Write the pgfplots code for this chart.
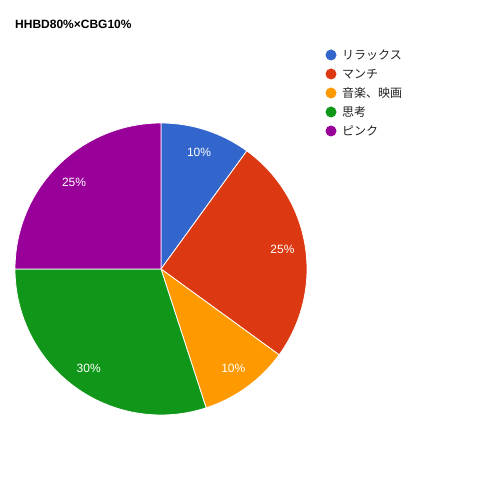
\documentclass[border=0pt]{standalone}
\usepackage{pgfplots}
\usepackage{pgfplotstable}
\pgfplotsset{compat=1.18}
\usepackage{fontspec}
\setmainfont{Liberation Sans}
\newfontfamily\cjk{Noto Sans CJK JP}
\definecolor{s0}{HTML}{3366CC}
\definecolor{s1}{HTML}{DC3912}
\definecolor{s2}{HTML}{FF9900}
\definecolor{s3}{HTML}{109618}
\definecolor{s4}{HTML}{990099}
\definecolor{legtext}{HTML}{222222}
\newcommand\lbl{\fontsize{12bp}{14bp}\selectfont}

% slice name, share in percent, colour
\pgfplotstableread{
name value col
リラックス 10 s0
マンチ 25 s1
音楽、映画 10 s2
思考 30 s3
ピンク 25 s4
}\piedata

\begin{document}
\begin{tikzpicture}
\begin{axis}[
  scale only axis,
  width=487bp, height=487bp,
  xmin=0, xmax=487, ymin=0, ymax=487,
  hide axis, clip=false,
]
\pgfplotsextra{
  \path (axis cs:0,0) rectangle (axis cs:487,487);
  \node[anchor=base west, inner sep=0pt, font=\lbl\bfseries] at (axis cs:15,458) {HHBD80\%×CBG10\%};
  \def\cum{0}
  \pgfplotsforeachungrouped \i in {0,...,4}{
    \pgfplotstablegetelem{\i}{value}\of\piedata \let\sv\pgfplotsretval
    \pgfplotstablegetelem{\i}{col}\of\piedata \let\sc\pgfplotsretval
    \pgfplotstablegetelem{\i}{name}\of\piedata \let\sn\pgfplotsretval
    \pgfmathsetmacro\sa{90-3.6*\cum}
    \pgfmathsetmacro\sb{90-3.6*(\cum+\sv)}
    \pgfmathsetmacro\sm{(\sa+\sb)/2}
    \pgfmathsetmacro\ly{432-19*\i}
    \filldraw[fill=\sc, draw=white, line width=0.8bp, line join=round]
      (axis cs:161,218) -- ++(\sa:146bp) arc[start angle=\sa, end angle=\sb, radius=146bp] -- cycle;
    \path (axis cs:161,218) ++(\sm:123bp) node[text=white, font=\lbl] {\sv\%};
    \fill[\sc] (axis cs:331,\ly) circle[radius=5.5bp];
    \node[anchor=west, text=legtext, font=\cjk\lbl, inner sep=0pt] at (axis cs:342,\ly) {\sn};
    \pgfmathsetmacro\cum{\cum+\sv}
  }
}
\end{axis}
\end{tikzpicture}
\end{document}
